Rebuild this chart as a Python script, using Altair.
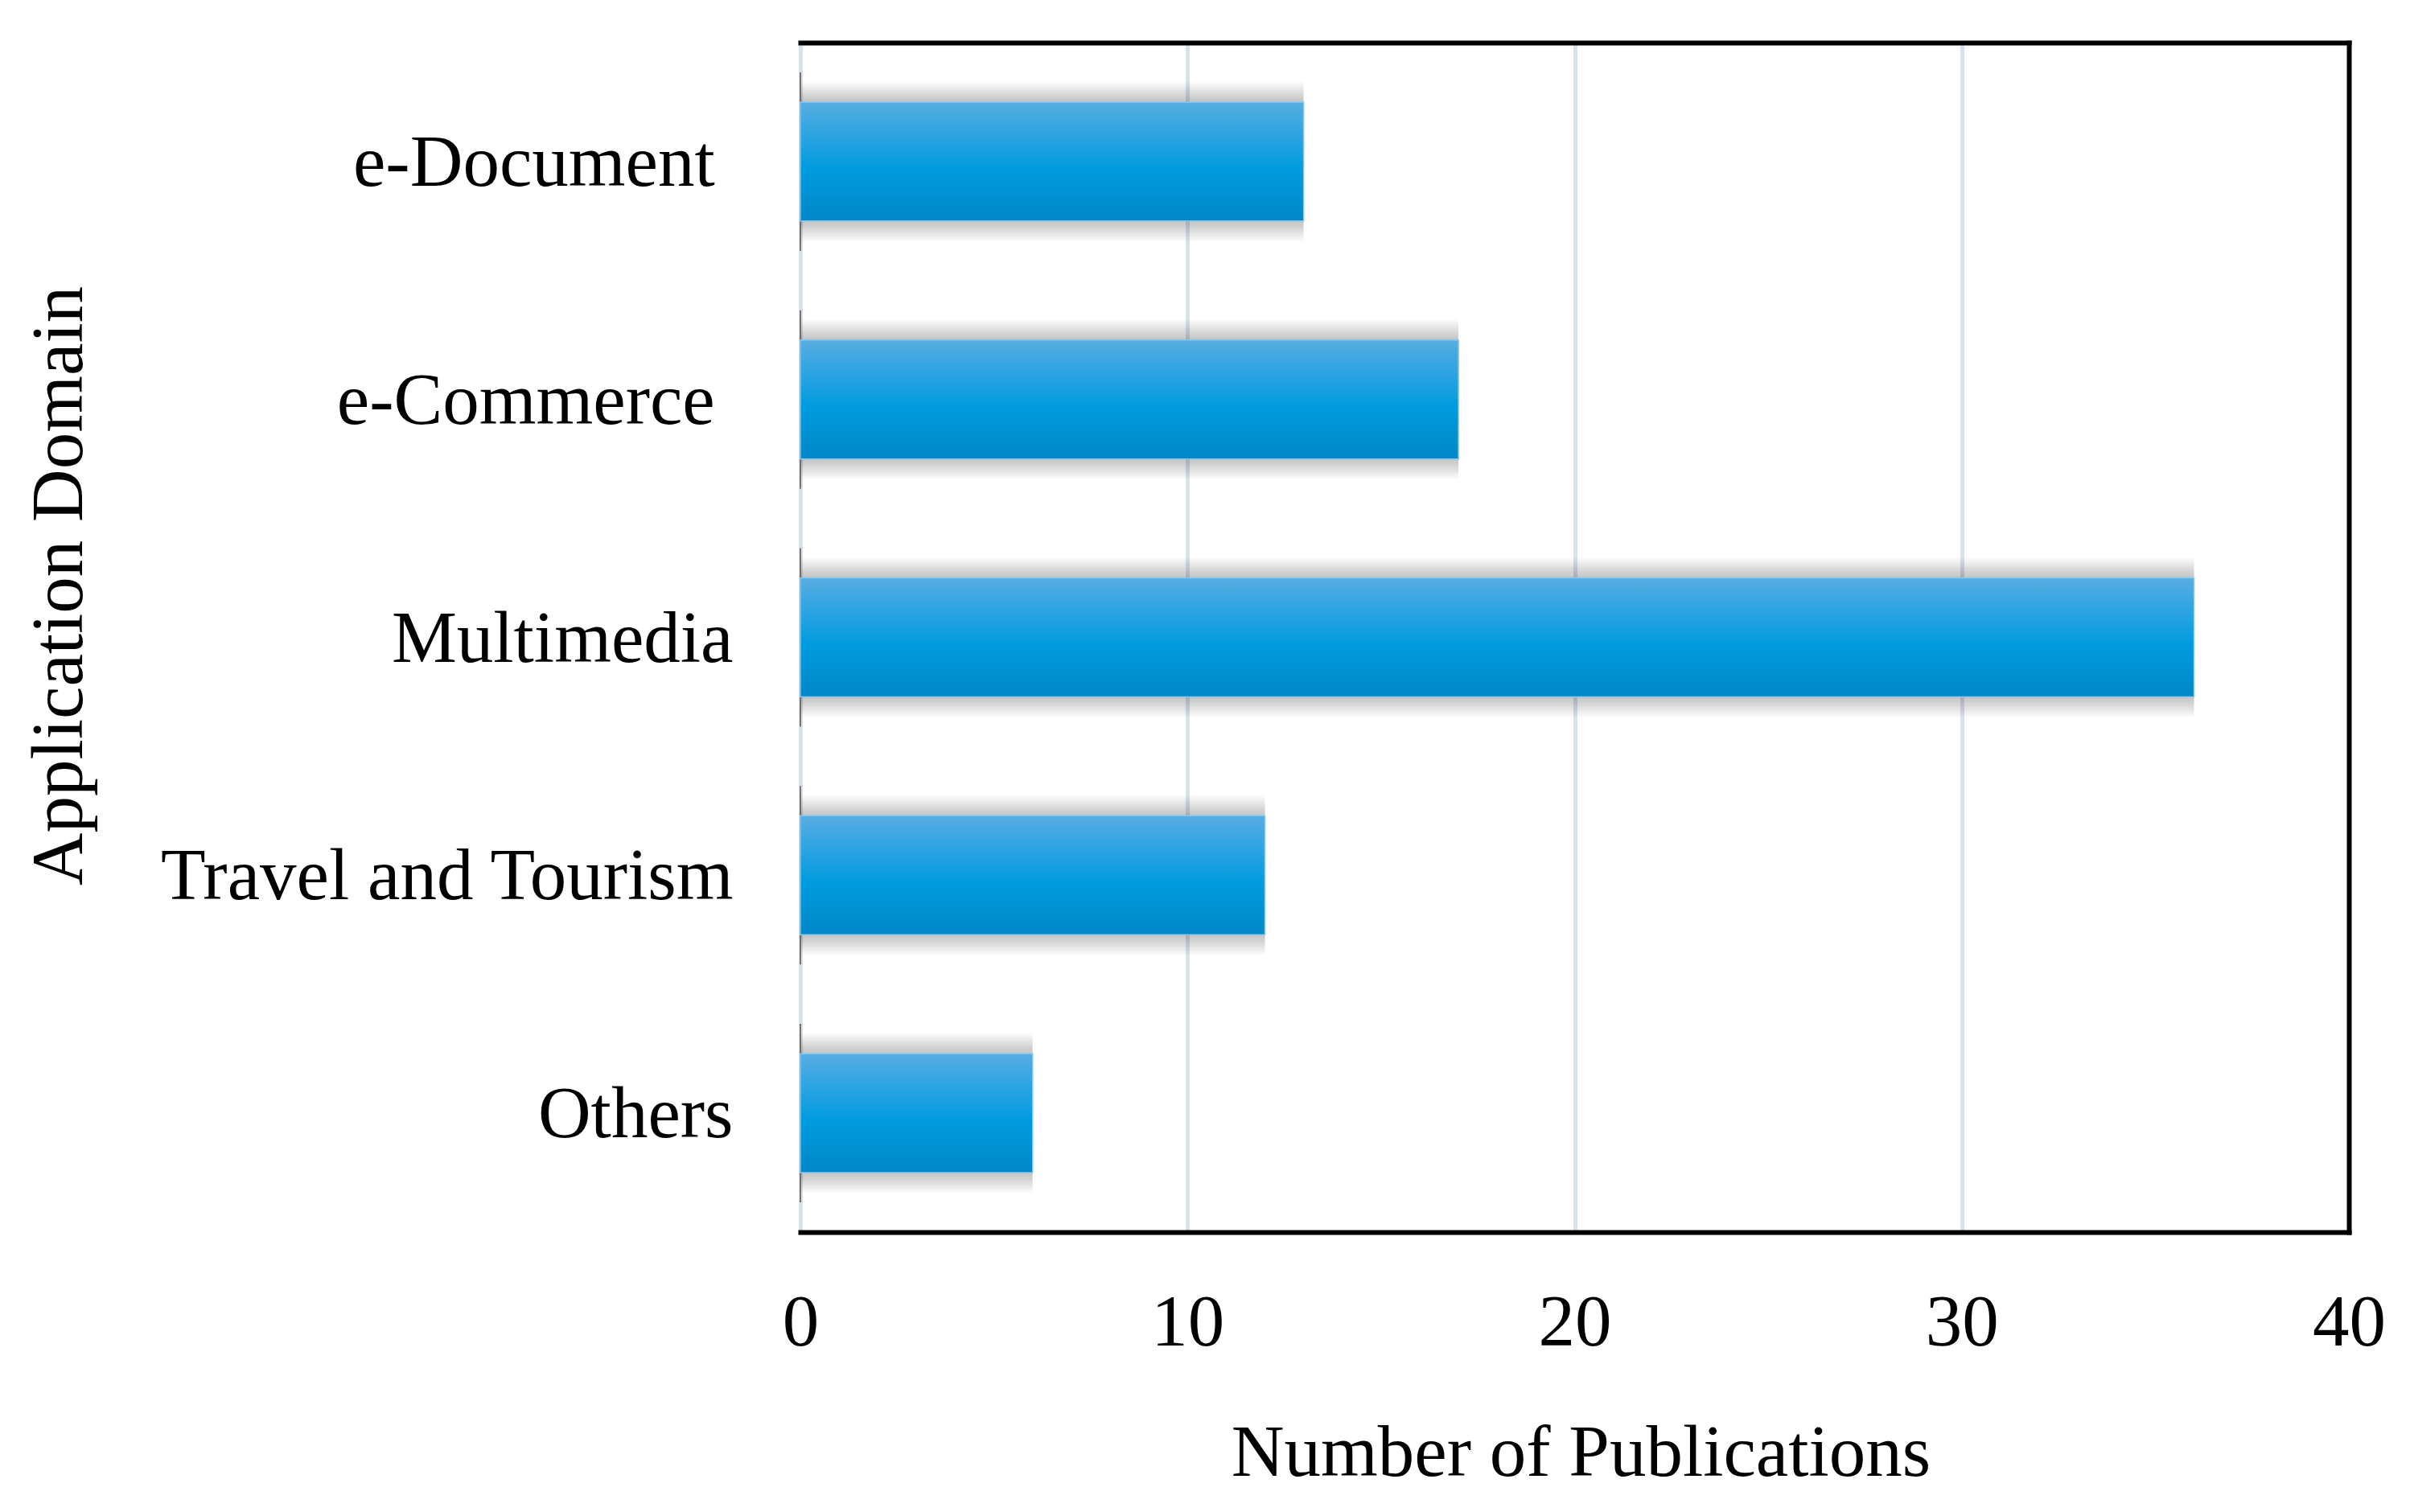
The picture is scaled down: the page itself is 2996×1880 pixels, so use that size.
import altair as alt
import pandas as pd

categories = ["e-Document", "e-Commerce", "Multimedia", "Travel and Tourism", "Others"]
publications = [13, 17, 36, 12, 6]
x_ticks = [0, 10, 20, 30, 40]
padded_labels = ["e-Document", "e-Commerce"]

df = pd.DataFrame({"domain": categories, "count": publications})

FONT = "Liberation Serif"
FS = 91
PAD = "\u00a0\u200b"  # trailing space that survives trimming

y_scale = alt.Scale(domain=categories, paddingInner=0.5, paddingOuter=0.25)
x_scale = alt.Scale(domain=[0, 40], nice=False)

gradient = alt.Gradient(
    gradient="linear", x1=0, x2=0, y1=0, y2=1,
    stops=[
        alt.GradientStop(color="#58ade2", offset=0),
        alt.GradientStop(color="#1da1e1", offset=0.38),
        alt.GradientStop(color="#009cdf", offset=0.55),
        alt.GradientStop(color="#0087c8", offset=1),
    ],
)

label_expr = (
    "indexof(['" + "','".join(padded_labels) + "'], datum.label) >= 0 ? datum.label + '"
    + PAD + "' : datum.label"
)

x_axis = alt.Axis(
    values=x_ticks, grid=True, gridColor="#dae2e9", gridWidth=5,
    domain=True, domainColor="black", domainWidth=6, domainCap="square",
    ticks=False, tickSize=0,
    labelFont=FONT, labelFontSize=FS, labelColor="black", labelPadding=140,
    labelBaseline="alphabetic", labelFlush=False,
    title="Number of Publications", titleFont=FONT, titleFontSize=FS,
    titleFontWeight="normal", titleColor="black", titleBaseline="alphabetic",
    titleAlign="center", titleX=970, titleY=302,
)

y_axis = alt.Axis(
    domain=False, ticks=False, tickSize=0, grid=False,
    labelFont=FONT, labelFontSize=FS, labelColor="black", labelPadding=84,
    labelLimit=0, labelBaseline="middle", labelOffset=3, labelExpr=label_expr,
    title="Application Domain", titleFont=FONT, titleFontSize=FS,
    titleFontWeight="normal", titleColor="black", titleBaseline="alphabetic",
    titleAlign="center", titleAngle=270, titleX=-894, titleY=675,
)

base = alt.Chart(df)
X = alt.X("count:Q", scale=x_scale, axis=x_axis)
Y = alt.Y("domain:N", scale=y_scale, sort=categories, axis=y_axis)

shadows = [
    base.mark_bar(color="black", opacity=0.024, height={"band": 1 + 0.034 * k},
                  x2Offset=-3 * k)
    .encode(x=X, y=Y)
    for k in range(1, 11)
]

axis_line = base.mark_tick(color="#4a4a4a", thickness=2, size=222, orient="vertical").encode(
    x=alt.datum(0, scale=x_scale), y=Y
)

bars = base.mark_bar(color=gradient, stroke="#86c9ef", strokeWidth=1.5).encode(x=X, y=Y)

frame = base.mark_bar(opacity=0).encode(
    x=alt.X("count:Q", scale=x_scale, axis=alt.Axis(
        orient="top", domain=True, domainColor="black", domainWidth=6, domainCap="square",
        labels=False, ticks=False, grid=False, title=None)),
    y=alt.Y("domain:N", scale=y_scale, sort=categories, axis=alt.Axis(
        orient="right", domain=True, domainColor="black", domainWidth=6, domainCap="square",
        labels=False, ticks=False, grid=False, title=None)),
)

chart = (
    alt.layer(alt.layer(*shadows, axis_line, bars), frame)
    .resolve_axis(x="independent", y="independent")
    .properties(
        width=1925, height=1479,
        autosize=alt.AutoSizeParams(type="none"),
        padding={"left": 987, "top": 45, "right": 60, "bottom": 330},
    )
    .configure_view(stroke=None)
    .configure(background="white")
)

chart.save("out.html", embed_options={"renderer": "svg", "actions": False})
